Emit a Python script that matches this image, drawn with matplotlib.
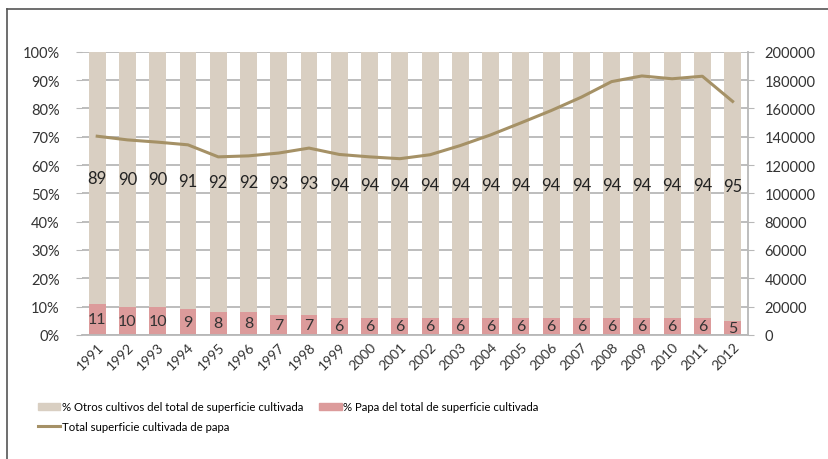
import matplotlib.pyplot as plt
import matplotlib.patches as pch
import matplotlib.lines as mln
import numpy as np

plt.rcParams['font.family'] = ['Lato', 'DejaVu Sans']

years = [str(y) for y in range(1991, 2013)]
papa_pct = [11, 10, 10, 9, 8, 8, 7, 7, 6, 6, 6, 6, 6, 6, 6, 6, 6, 6, 6, 6, 6, 5]
otros_pct = [89, 90, 90, 91, 92, 92, 93, 93, 94, 94, 94, 94, 94, 94, 94, 94, 94, 94, 94, 94, 94, 95]
superficie = [140400, 137800, 136200, 134300, 125800, 126500, 128500, 132000,
              127500, 125800, 124500, 127300, 133800, 141300, 149800, 158500,
              168000, 179000, 183000, 181000, 182800, 165000]

c_otros = '#d9cfc2'
c_papa = '#dc9b9b'
c_line = '#a59166'

fig = plt.figure(figsize=(8.29, 4.6), dpi=100)
ax = fig.add_axes([0.099, 0.27, 0.803, 0.615])
x = np.arange(len(years))

# stacked bars (percent)
ax.bar(x, papa_pct, width=0.56, color=c_papa, zorder=2)
ax.bar(x, otros_pct, width=0.56, bottom=papa_pct, color=c_otros, zorder=2)

# value labels in the middle of each segment
for i in range(len(years)):
    ax.text(x[i], papa_pct[i] / 2, str(papa_pct[i]), ha='center', va='center',
            fontsize=11.5, color='#333333', zorder=4)
    ax.text(x[i], papa_pct[i] + otros_pct[i] / 2, str(otros_pct[i]), ha='center',
            va='center', fontsize=12, color='#222222', zorder=4)

ax.set_ylim(0, 100)
ax.set_xlim(-0.5, len(years) - 0.5)
ax.set_yticks(range(0, 101, 10))
ax.set_yticklabels([str(v) + '%' for v in range(0, 101, 10)], fontsize=10.5, color='#333333')
ax.yaxis.grid(True, color='#b8b8b8', lw=1.3, zorder=1)
ax.set_axisbelow(True)
ax.set_xticks(x)
ax.set_xticklabels(years, rotation=45, ha='right', rotation_mode='anchor', fontsize=10, color='#333333')
ax.tick_params(axis='y', length=4, color='#b8b8b8', pad=12)
ax.tick_params(axis='x', length=0, pad=4)
for s in ['top', 'right', 'left']:
    ax.spines[s].set_visible(False)
ax.spines['bottom'].set_color('#b8b8b8')
ax.spines['bottom'].set_linewidth(1.3)

# secondary axis: total surface
ax2 = ax.twinx()
ax2.plot(x, superficie, color=c_line, lw=2.2, zorder=3)
ax2.set_ylim(0, 200000)
ax2.set_yticks(range(0, 200001, 20000))
ax2.set_yticklabels([str(v) for v in range(0, 200001, 20000)], fontsize=10.5, color='#333333')
ax2.tick_params(axis='y', length=4, color='#b8b8b8', pad=8)
for s in ['top', 'left', 'bottom']:
    ax2.spines[s].set_visible(False)
ax2.spines['right'].set_color('#b8b8b8')
ax2.spines['right'].set_linewidth(1.3)

# legend (ncol fills column-wise)
handles = [pch.Patch(color=c_otros, label='% Otros cultivos del total de superficie cultivada'),
           mln.Line2D([], [], color=c_line, lw=2.2, label='Total superficie cultivada de papa'),
           pch.Patch(color=c_papa, label='% Papa del total de superficie cultivada')]
fig.legend(handles=handles, loc='upper left', bbox_to_anchor=(0.04, 0.135), ncol=2,
           frameon=False, fontsize=8.2, handlelength=2.0, handleheight=0.6,
           handletextpad=0.1, columnspacing=1.4, labelspacing=0.75, borderaxespad=0)

# frame lines (top and left)
fig.add_artist(mln.Line2D([0.009, 1.0], [0.979, 0.979], color='#555555', lw=1.2))
fig.add_artist(mln.Line2D([0.009, 0.009], [0.0, 0.979], color='#555555', lw=1.2))

fig.savefig('out.png', dpi=100)
